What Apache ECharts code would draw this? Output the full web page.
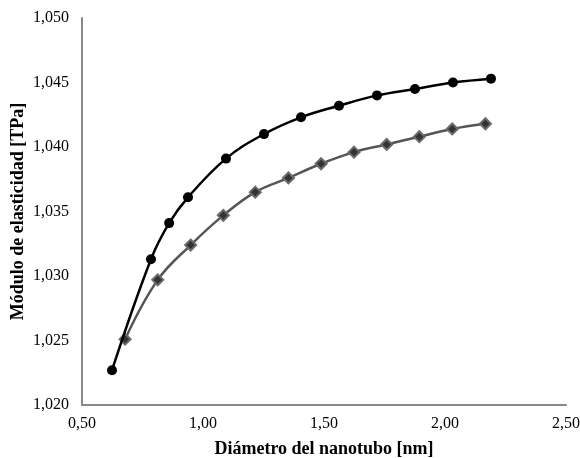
<!DOCTYPE html>
<html>
<head>
<meta charset="utf-8">
<script src="https://cdn.jsdelivr.net/npm/echarts@6/dist/echarts.min.js"></script>
<style>
  html, body { margin: 0; padding: 0; background: #fff; }
  #chart { width: 580px; height: 458px; }
</style>
</head>
<body>
<div id="chart"></div>
<script>
// Nanotube diameter [nm] vs. elastic modulus [TPa]
const diamCircle = [0.624, 0.785, 0.860, 0.938, 1.095, 1.252, 1.405, 1.562, 1.719, 1.876, 2.033, 2.190];
const modCircle  = [1.0227, 1.0313, 1.0341, 1.0361, 1.0391, 1.0410, 1.0423, 1.0432, 1.0440, 1.0445, 1.0450, 1.0453];

const diamDiamond = [0.678, 0.813, 0.949, 1.084, 1.216, 1.353, 1.488, 1.624, 1.759, 1.894, 2.030, 2.167];
const modDiamond  = [1.0251, 1.0297, 1.0324, 1.0347, 1.0365, 1.0376, 1.0387, 1.0396, 1.0402, 1.0408, 1.0414, 1.0418];

const xTicks = [0.5, 1.0, 1.5, 2.0, 2.5];
const yTicks = [1.020, 1.025, 1.030, 1.035, 1.040, 1.045, 1.050];

const pairs = (xs, ys) => xs.map((x, i) => [x, ys[i]]);
const comma = (v, d) => v.toFixed(d).replace('.', ',');

const chart = echarts.init(document.getElementById('chart'));
chart.setOption({
  animation: false,
  backgroundColor: '#ffffff',
  textStyle: { fontFamily: 'Liberation Serif' },
  grid: { left: 82, right: 14, top: 18, bottom: 53, containLabel: false, outerBoundsMode: 'none' },
  xAxis: {
    type: 'value',
    min: xTicks[0],
    max: xTicks[xTicks.length - 1],
    interval: 0.5,
    name: 'Diámetro del nanotubo [nm]',
    nameLocation: 'middle',
    nameGap: 35,
    nameMoveOverlap: false,
    nameTextStyle: { fontFamily: 'Liberation Serif', fontWeight: 'bold', fontSize: 18, color: '#000' },
    axisLine: { show: true, lineStyle: { color: '#888888', width: 2 } },
    axisTick: { show: false },
    splitLine: { show: false },
    axisLabel: {
      fontFamily: 'Liberation Serif', fontSize: 16, color: '#000', margin: 11,
      formatter: v => comma(v, 2)
    }
  },
  yAxis: {
    type: 'value',
    min: yTicks[0],
    max: yTicks[yTicks.length - 1],
    interval: 0.005,
    name: 'Módulo de elasticidad [TPa]',
    nameLocation: 'middle',
    nameGap: 55,
    nameMoveOverlap: false,
    nameTextStyle: { fontFamily: 'Liberation Serif', fontWeight: 'bold', fontSize: 18, color: '#000' },
    axisLine: { show: true, lineStyle: { color: '#888888', width: 2 } },
    axisTick: { show: false },
    splitLine: { show: false },
    axisLabel: {
      fontFamily: 'Liberation Serif', fontSize: 16, color: '#000', margin: 13,
      formatter: v => comma(v, 3)
    }
  },
  series: [
    {
      type: 'line',
      data: pairs(diamCircle, modCircle),
      smooth: 0.4,
      symbol: 'circle',
      symbolSize: 10,
      lineStyle: { color: '#000000', width: 2.5 },
      itemStyle: { color: '#000000' },
      z: 3
    },
    {
      type: 'line',
      data: pairs(diamDiamond, modDiamond),
      smooth: 0.4,
      symbol: 'diamond',
      symbolSize: 11,
      lineStyle: { color: '#555555', width: 2.5 },
      itemStyle: { color: '#333333', borderColor: '#6a6a6a', borderWidth: 2 },
      z: 2
    }
  ]
});
</script>
</body>
</html>
